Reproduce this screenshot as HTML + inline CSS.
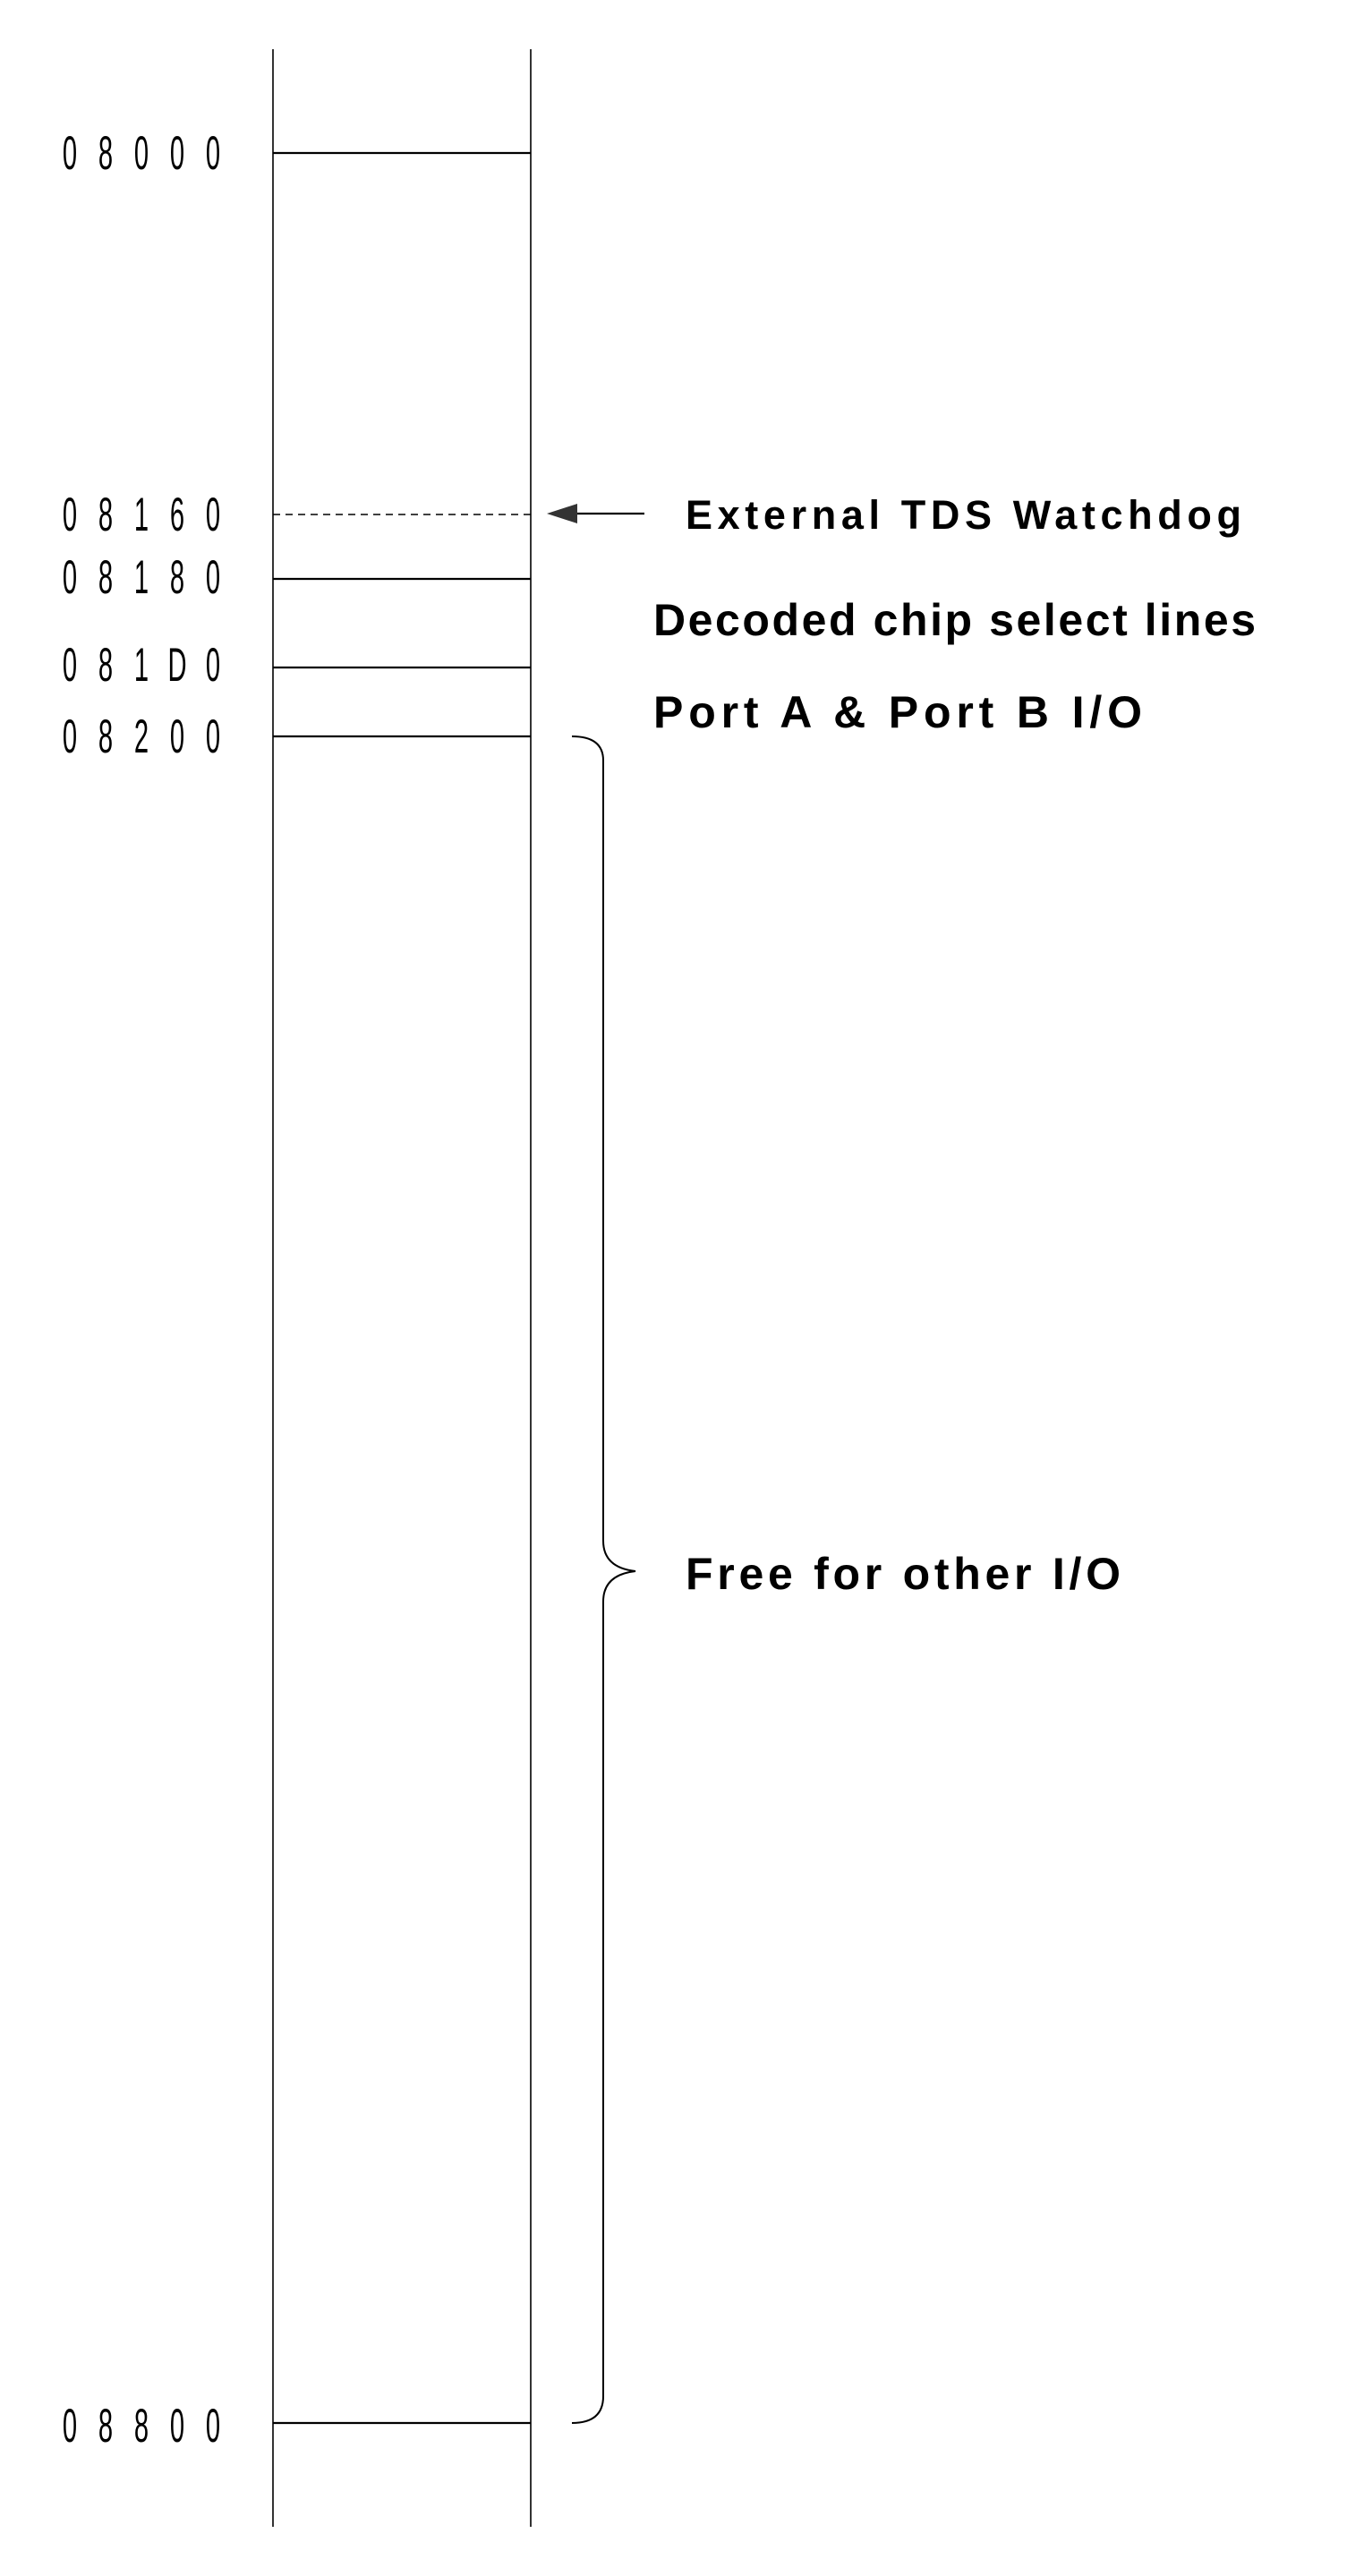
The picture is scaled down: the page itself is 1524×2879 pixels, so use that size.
<!DOCTYPE html>
<html><head><meta charset="utf-8"><style>html,body{margin:0;padding:0;background:#fff}svg{display:block}</style></head>
<body>
<svg width="1524" height="2879" viewBox="0 0 1524 2879" xmlns="http://www.w3.org/2000/svg">
<g stroke="#000" stroke-width="1.6" fill="none">
<line x1="305" y1="55" x2="305" y2="2824"/>
<line x1="593" y1="55" x2="593" y2="2824"/>
<line x1="305" y1="171" x2="593" y2="171" stroke-width="2.2"/>
<line x1="305" y1="575" x2="593" y2="575" stroke-dasharray="8,6"/>
<line x1="305" y1="647" x2="593" y2="647" stroke-width="2.2"/>
<line x1="305" y1="746" x2="593" y2="746" stroke-width="2.2"/>
<line x1="305" y1="823" x2="593" y2="823" stroke-width="2.2"/>
<line x1="305" y1="2708" x2="593" y2="2708" stroke-width="2.2"/>
<line x1="645" y1="574" x2="720" y2="574" stroke-width="2.2"/>
<path d="M639 823 Q674 823 674 850 L674 1722 Q674 1752 710 1756 Q674 1760 674 1790 L674 2678 Q674 2708 639 2708" stroke-width="2"/>
</g>
<polygon points="611,574 645,563 645,585" fill="#333"/>
<g font-family="Liberation Sans, sans-serif" font-size="53" fill="#000" text-anchor="middle">
<g transform="scale(0.55,1)">
<text y="189"><tspan x="141.8">0</tspan><tspan x="214.5">8</tspan><tspan x="287.3">0</tspan><tspan x="360">0</tspan><tspan x="432.7">0</tspan></text>
<text y="593"><tspan x="141.8">0</tspan><tspan x="214.5">8</tspan><tspan x="287.3">1</tspan><tspan x="360">6</tspan><tspan x="432.7">0</tspan></text>
<text y="663"><tspan x="141.8">0</tspan><tspan x="214.5">8</tspan><tspan x="287.3">1</tspan><tspan x="360">8</tspan><tspan x="432.7">0</tspan></text>
<text y="761"><tspan x="141.8">0</tspan><tspan x="214.5">8</tspan><tspan x="287.3">1</tspan><tspan x="360">D</tspan><tspan x="432.7">0</tspan></text>
<text y="841"><tspan x="141.8">0</tspan><tspan x="214.5">8</tspan><tspan x="287.3">2</tspan><tspan x="360">0</tspan><tspan x="432.7">0</tspan></text>
<text y="2729"><tspan x="141.8">0</tspan><tspan x="214.5">8</tspan><tspan x="287.3">8</tspan><tspan x="360">0</tspan><tspan x="432.7">0</tspan></text>
</g>
</g>
<g font-family="Liberation Sans, sans-serif" font-weight="bold" fill="#000">
<text x="766" y="591" font-size="45" textLength="621" lengthAdjust="spacing">External TDS Watchdog</text>
<text x="730" y="710" font-size="50" textLength="673" lengthAdjust="spacing">Decoded chip select lines</text>
<text x="730" y="813" font-size="50" textLength="546" lengthAdjust="spacing">Port A &amp; Port B I/O</text>
<text x="766" y="1776" font-size="50" textLength="486" lengthAdjust="spacing">Free for other I/O</text>
</g>
</svg>
</body></html>
